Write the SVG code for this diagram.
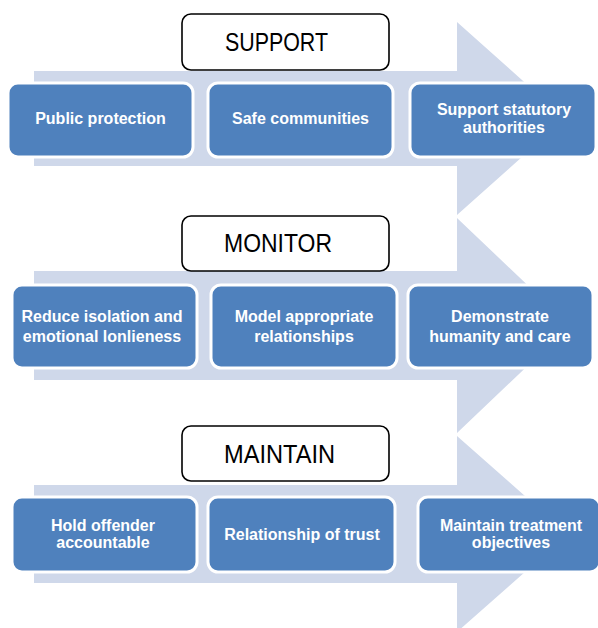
<svg xmlns="http://www.w3.org/2000/svg" width="598" height="628" viewBox="0 0 598 628">
<style>
.arrow{fill:#cfd8ea}
.box{fill:#4f81bd;stroke:#ffffff;stroke-width:3}
.lbl{fill:#ffffff;stroke:#000000;stroke-width:1.6}
.bt{font-family:"Liberation Sans",Arial,sans-serif;font-weight:bold;font-size:16px;fill:#ffffff;text-anchor:middle}
.ht{font-family:"Liberation Sans",Arial,sans-serif;font-size:25px;fill:#000000}
</style>
<rect width="598" height="628" fill="#ffffff"/>
<g id="connectors">
<polygon class="arrow" points="34,71 457,71 457,22 565,118.5 457,215 457,166 34,166"/>
<polygon class="arrow" points="34,271 457,271 457,218 570,325.5 457,433 457,380 34,380"/>
<polygon class="arrow" points="34,485 457,485 457,436 568,534 457,632 457,583 34,583"/>
</g>
<g id="support">
<rect class="lbl" x="182" y="14" width="207" height="56" rx="9"/>
<text class="ht" x="225" y="51" textLength="103" lengthAdjust="spacingAndGlyphs">SUPPORT</text>
</g>
<g id="public-protection">
<rect class="box" x="8" y="83" width="185" height="74" rx="10"/>
<text class="bt" x="100.5" y="124">Public protection</text>
</g>
<g id="safe-communities">
<rect class="box" x="208" y="83" width="185" height="74" rx="10"/>
<text class="bt" x="300.5" y="124">Safe communities</text>
</g>
<g id="support-statutory">
<rect class="box" x="410" y="83" width="186" height="74" rx="10"/>
<text class="bt" x="504" y="115">Support statutory</text>
<text class="bt" x="504" y="133">authorities</text>
</g>
<g id="monitor">
<rect class="lbl" x="182" y="216" width="207" height="55" rx="9"/>
<text class="ht" x="224" y="252" textLength="108" lengthAdjust="spacingAndGlyphs">MONITOR</text>
</g>
<g id="reduce-isolation">
<rect class="box" x="12" y="285" width="185" height="83" rx="10"/>
<text class="bt" x="102" y="322">Reduce isolation and</text>
<text class="bt" x="102" y="342">emotional lonlieness</text>
</g>
<g id="model-relationships">
<rect class="box" x="211" y="285" width="186" height="83" rx="10"/>
<text class="bt" x="304" y="322">Model appropriate</text>
<text class="bt" x="304" y="342">relationships</text>
</g>
<g id="demonstrate-humanity">
<rect class="box" x="408" y="285" width="185" height="83" rx="10"/>
<text class="bt" x="500" y="322">Demonstrate</text>
<text class="bt" x="500" y="342">humanity and care</text>
</g>
<g id="maintain">
<rect class="lbl" x="182" y="426" width="207" height="55" rx="9"/>
<text class="ht" x="224" y="463" textLength="111" lengthAdjust="spacingAndGlyphs">MAINTAIN</text>
</g>
<g id="hold-accountable">
<rect class="box" x="12" y="497" width="185" height="75" rx="10"/>
<text class="bt" x="103" y="531">Hold offender</text>
<text class="bt" x="103" y="548">accountable</text>
</g>
<g id="relationship-trust">
<rect class="box" x="208" y="497" width="187" height="75" rx="10"/>
<text class="bt" x="302" y="540">Relationship of trust</text>
</g>
<g id="maintain-objectives">
<rect class="box" x="418" y="497" width="182" height="75" rx="10"/>
<text class="bt" x="511" y="531">Maintain treatment</text>
<text class="bt" x="511" y="548">objectives</text>
</g>
</svg>
